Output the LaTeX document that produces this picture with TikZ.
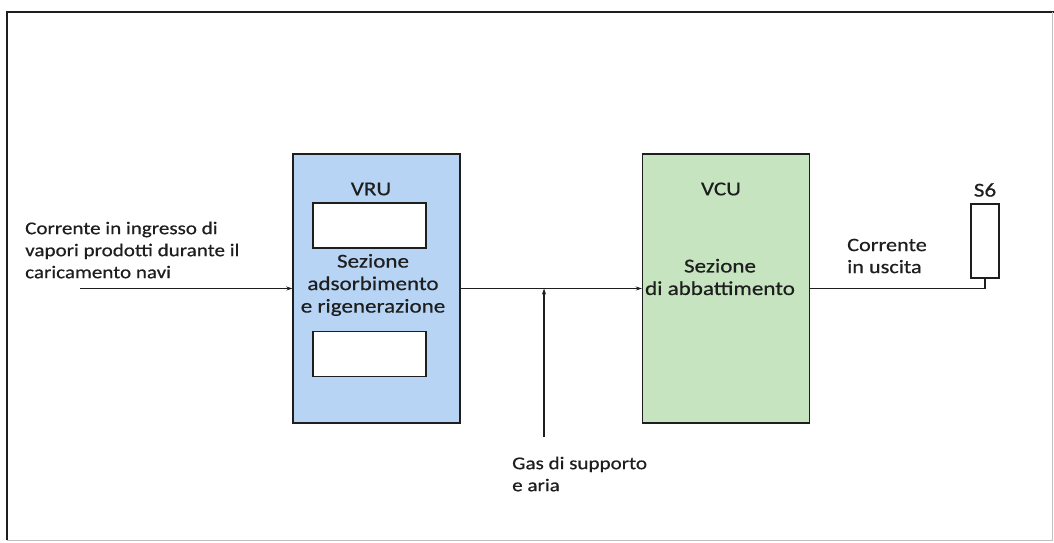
\documentclass[tikz,border=0pt]{standalone}
\usepackage{fontspec}
\setmainfont{Carlito}[FakeStretch=1.17,FakeBold=0.5]
\usetikzlibrary{arrows.meta}
\definecolor{vrublue}{RGB}{183,212,245}
\definecolor{vcugreen}{RGB}{198,228,192}
\definecolor{ink}{RGB}{30,30,30}
\begin{document}
\begin{tikzpicture}[x=1pt,y=-1pt,
  unitbox/.style={draw=ink, line width=1.4pt, minimum width=167pt, minimum height=269pt, inner sep=0pt},
  slot/.style={draw=ink, line width=1.3pt, fill=white, minimum width=113pt, minimum height=45pt, inner sep=0pt},
  lbl/.style={font=\fontsize{19}{22}\selectfont, text=ink, inner sep=0pt},
  biglbl/.style={font=\fontsize{19.7}{22.5}\selectfont, text=ink, inner sep=0pt},
  smalllbl/.style={font=\fontsize{18}{22}\selectfont, text=ink, inner sep=0pt},
  flow/.style={draw=ink, line width=1.2pt, -{Stealth[length=6pt,width=4pt]}},
  wire/.style={draw=ink, line width=1.2pt}]
\useasboundingbox (0,0) rectangle (1054,542);
% frame
\draw[ink, line width=1.6pt] (7,540) -- (7,12) -- (1054,12);
\draw[black!25, line width=0.8pt] (7,540) -- (1052,540) -- (1052,12);
% units
\node[unitbox, fill=vrublue] (vru) at (376.5,288.5) {};
\node[unitbox, fill=vcugreen] (vcu) at (726,288.5) {};
\node[slot] (slota) at (369.5,225.5) {};
\node[slot] (slotb) at (369.5,354) {};
\node[draw=ink, line width=1.3pt, fill=white, minimum width=28pt, minimum height=74pt, inner sep=0pt] (s6) at (985,241) {};
% labels
\node[biglbl] (vrut) at (371,189) {VRU};
\node[biglbl, align=center] (vrud) at (373,285) {Sezione\\adsorbimento\\e rigenerazione};
\node[biglbl] (vcut) at (721,189) {VCU};
\node[biglbl, align=center] (vcud) at (720,277) {Sezione\\di abbattimento};
\node[biglbl] (s6t) at (985,190) {S6};
\node[lbl, align=left, anchor=west] (outt) at (847,256) {Corrente\\in uscita};
\node[smalllbl, align=left, anchor=west] (int) at (25,250) {Corrente in ingresso di\\vapori prodotti durante il\\caricamento navi};
\node[smalllbl, align=left, anchor=west] (gast) at (512,474) {Gas di supporto\\e aria};
% connectors
\coordinate (src) at (80,288.5);
\coordinate (gasin) at (544,437);
\coordinate (junc) at (544,288.5);
\draw[flow] (src) -- (vru.west);
\draw[flow] (vru.east) -- (vcu.west);
\draw[flow] (gasin) -- (junc);
\draw[wire] (vcu.east) -- (vcu.east -| s6.south) -- (s6.south);
\end{tikzpicture}
\end{document}
